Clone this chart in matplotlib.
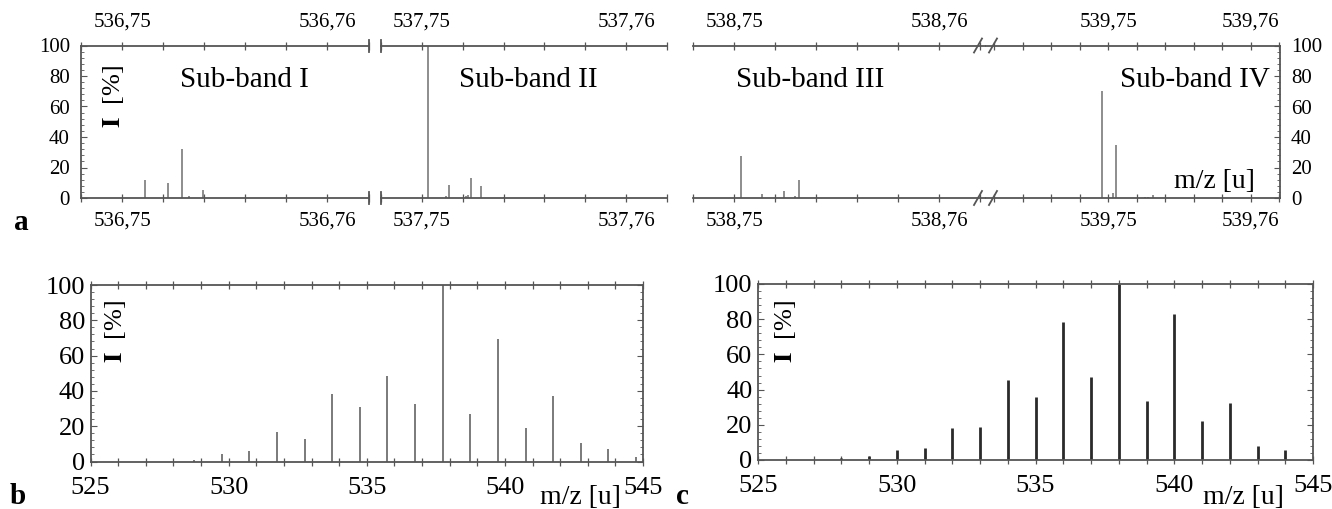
import numpy as np
import matplotlib.pyplot as plt
from matplotlib.ticker import MultipleLocator, FuncFormatter
from matplotlib.lines import Line2D

plt.rcParams['font.family'] = ['Liberation Serif', 'DejaVu Serif']
plt.rcParams['mathtext.fontset'] = 'stix'

# High-resolution sub-bands (m/z, relative intensity %)
band1_mz = [536.75114, 536.75223, 536.75294, 536.75326, 536.75392]
band1_int = [12, 10, 32, 1, 5]
band2_mz = [537.75031, 537.75119, 537.75133, 537.75217, 537.75226, 537.75242, 537.75291, 537.75400]
band2_int = [100, 1, 8.5, 1, 2, 13, 8, 0.5]
band3_mz = [538.75033, 538.75137, 538.75244, 538.75296, 538.75317]
band3_int = [27.5, 2.5, 4.3, 1, 11.8]
band4_mz = [539.74954, 539.75035, 539.75054, 539.75258, 539.75279, 539.75312]
band4_int = [70, 3, 35, 0.5, 0.8, 2]
band_names = ["Sub-band I", "Sub-band II", "Sub-band III", "Sub-band IV"]

# Low-resolution spectra
b_mz = [528.75, 529.75, 530.75, 531.75, 532.75, 533.75, 534.75, 535.75, 536.75,
        537.75, 538.75, 539.75, 540.75, 541.75, 542.75, 543.75, 544.75]
b_int = [1, 4.2, 6, 16.6, 12.6, 38.3, 31.1, 48.5, 32.6,
         100, 27, 69.4, 19.2, 37, 10.4, 7, 2.3]
c_mz = [528, 529, 530, 531, 532, 533, 534, 535, 536,
        537, 538, 539, 540, 541, 542, 543, 544]
c_int = [1, 2, 5.7, 6.7, 17.9, 18.9, 45.5, 35.8, 78.3,
         47.4, 100, 33.3, 82.9, 22.1, 32.2, 8, 5.9]

W, H = 1332, 509
fig = plt.figure(figsize=(W / 100, H / 100), dpi=100)


def rect(x0, y0, x1, y1):
    return [x0 / W, 1 - y1 / H, (x1 - x0) / W, (y1 - y0) / H]


def fx(x):
    return x / W


def fy(y):
    return 1 - y / H


spine_col = "#555555"
comma = FuncFormatter(lambda v, p: f"{v:.2f}".replace(".", ","))

top_y0, top_y1 = 45.5, 198
panels = [
    (81, 368.5, 536.748, 536.762, band1_mz, band1_int),
    (380.7, 667.3, 537.748, 537.762, band2_mz, band2_int),
    (693.3, 985.5, 538.748, 538.76225, band3_mz, band3_int),
    (985.5, 1280, 539.74138, 539.76206, band4_mz, band4_int),
]

for i, (x0, x1, lo, hi, mz, inten) in enumerate(panels):
    ax = fig.add_axes(rect(x0, top_y0, x1, top_y1))
    ax.vlines(mz, 0, inten, color="#6f6f6f", lw=1.1)
    ax.set_xlim(lo, hi)
    ax.set_ylim(0, 100)
    ax.xaxis.set_major_locator(MultipleLocator(0.01))
    ax.xaxis.set_minor_locator(MultipleLocator(0.002))
    ax.xaxis.set_major_formatter(comma)
    ax.tick_params(axis="x", which="both", top=True, labeltop=True,
                   direction="inout", length=6, width=0.9, color=spine_col,
                   labelsize=15, pad=7)
    for s in ax.spines.values():
        s.set_color(spine_col)
        s.set_linewidth(1.3)
    ax.spines["left"].set_visible(i == 0)
    ax.spines["right"].set_visible(i == 3)
    ax.yaxis.set_major_locator(MultipleLocator(20))
    ax.yaxis.set_minor_locator(MultipleLocator(4))
    if i == 0:
        ax.tick_params(axis="y", which="both", left=True, right=False,
                       direction="in", color=spine_col, labelsize=15, pad=8)
        ax.tick_params(axis="y", which="major", length=4)
        ax.tick_params(axis="y", which="minor", length=2)
    elif i == 3:
        ax.yaxis.tick_right()
        ax.tick_params(axis="y", which="both", direction="in",
                       color=spine_col, labelsize=15, pad=8)
        ax.tick_params(axis="y", which="major", length=4)
        ax.tick_params(axis="y", which="minor", length=2)
    else:
        ax.tick_params(axis="y", which="both", left=False, right=False,
                       labelleft=False)
    ax.patch.set_alpha(0)

# break marks between sub-bands I and II
for xb in (368.5, 380.7):
    for yb in (top_y0, top_y1):
        fig.add_artist(Line2D([fx(xb), fx(xb)], [fy(yb - 6), fy(yb + 6)],
                              color=spine_col, lw=1.3))
# break marks between sub-bands III and IV
for xb in (978, 993):
    for yb in (top_y0, top_y1):
        fig.add_artist(Line2D([fx(xb - 4), fx(xb + 4)], [fy(yb + 7), fy(yb - 7)],
                              color=spine_col, lw=1.3))

fig.text(fx(244), fy(80), band_names[0], fontsize=21, ha="center", va="center")
fig.text(fx(528), fy(80), band_names[1], fontsize=21, ha="center", va="center")
fig.text(fx(810), fy(80), band_names[2], fontsize=21, ha="center", va="center")
fig.text(fx(1270), fy(80), band_names[3], fontsize=21, ha="right", va="center")
fig.text(fx(1255), fy(181), "m/z [u]", fontsize=20, ha="right", va="center")
fig.text(fx(113), fy(97), r"$\mathbf{I}$  [%]", fontsize=19, rotation=90,
         ha="center", va="center")
fig.text(fx(21), fy(222), "a", fontsize=21, fontweight="bold",
         ha="center", va="center")

# low-resolution spectra
low = [
    (rect(90.5, 285, 643, 461.5), b_mz, b_int, "#707070", 1.3, "b", 18, 115, 580),
    (rect(758, 284, 1313, 460), c_mz, c_int, "#2a2a2a", 2.0, "c", 682, 785, 1243),
]
for r, mz, inten, col, lw, tag, tag_x, lab_x, mz_x in low:
    ax = fig.add_axes(r)
    ax.vlines(mz, 0, inten, color=col, lw=lw)
    ax.set_xlim(525, 545)
    ax.set_ylim(0, 100)
    ax.xaxis.set_major_locator(MultipleLocator(5))
    ax.xaxis.set_minor_locator(MultipleLocator(1))
    ax.yaxis.set_major_locator(MultipleLocator(20))
    ax.yaxis.set_minor_locator(MultipleLocator(4))
    for s in ax.spines.values():
        s.set_color(spine_col)
        s.set_linewidth(1.3)
    ax.tick_params(axis="x", which="both", top=True, direction="inout",
                   length=6, width=0.9, color=spine_col, labelsize=19, pad=8)
    ax.tick_params(axis="y", which="both", right=True, direction="in",
                   color=spine_col, labelsize=19, pad=4)
    ax.tick_params(axis="y", which="major", length=4)
    ax.tick_params(axis="y", which="minor", length=2)
    fig.text(fx(lab_x), fy(332), r"$\mathbf{I}$  [%]", fontsize=19, rotation=90,
             ha="center", va="center")
    fig.text(fx(mz_x), fy(498), "m/z [u]", fontsize=20, ha="center", va="center")
    fig.text(fx(tag_x), fy(496), tag, fontsize=21, fontweight="bold",
             ha="center", va="center")

fig.savefig("out.png", dpi=100)
